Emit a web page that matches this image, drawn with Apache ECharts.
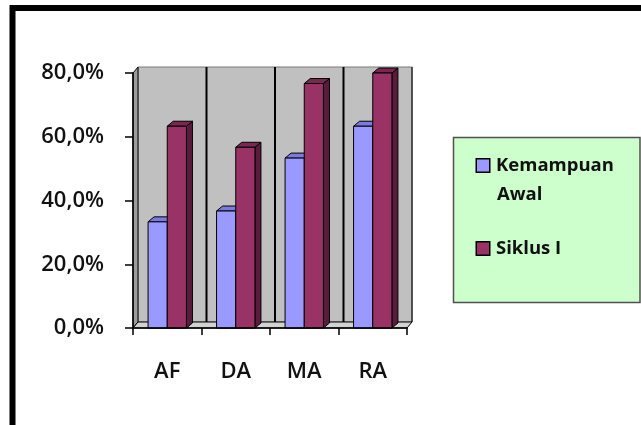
<!DOCTYPE html>
<html>
<head>
<meta charset="utf-8">
<script src="https://cdn.jsdelivr.net/npm/echarts@6/dist/echarts.min.js"></script>
<style>
  html, body { margin: 0; padding: 0; background: #fff; }
  #chart { width: 641px; height: 425px; }
</style>
</head>
<body>
<div id="chart"></div>
<script>
// Ketuntasan per aspek: kemampuan awal vs siklus I (persen)
const categories = ['AF', 'DA', 'MA', 'RA'];
const seriesNames = ['Kemampuan Awal', 'Siklus I'];
const kemampuanAwal = [33.3, 36.7, 53.3, 63.3];
const siklusI = [63.3, 56.7, 76.7, 80.0];
const yTicks = [0, 20, 40, 60, 80];

const FONT = '"Open Sans", "Liberation Sans", sans-serif';

// Face colours for the pseudo-3D columns: front, top, side
const palette = [
  { front: '#9999FF', top: '#7a7ae0', side: '#6262b0' },
  { front: '#993366', top: '#7a2852', side: '#5a1c3b' }
];

// depth offsets of the chart box and of the columns
const WALL_DX = 5, WALL_DY = -6;
const BAR_DX = 6, BAR_DY = -5;

function fmtPct(v) {
  return v.toFixed(1).replace('.', ',') + '%';
}

// back wall, side wall and floor of the 3D plot box
function renderWalls(params, api) {
  const cs = params.coordSys;
  const x = cs.x, y = cs.y, w = cs.width, h = cs.height;
  const n = categories.length;
  const children = [];
  children.push({
    type: 'rect',
    shape: { x: x + WALL_DX, y: y + WALL_DY, width: w, height: h },
    style: { fill: '#C0C0C0', stroke: '#7a7a7a', lineWidth: 1 }
  });
  for (let i = 1; i < n; i++) {
    const lx = x + WALL_DX + (w * i) / n;
    children.push({
      type: 'line',
      shape: { x1: lx, y1: y + WALL_DY, x2: lx, y2: y + h + WALL_DY },
      style: { stroke: '#000', lineWidth: 2 }
    });
  }
  const rx = x + w + WALL_DX;
  children.push({
    type: 'line',
    shape: { x1: rx, y1: y + WALL_DY, x2: rx, y2: y + h + WALL_DY },
    style: { stroke: '#333', lineWidth: 1.5 }
  });
  children.push({
    type: 'polygon',
    shape: { points: [[x, y + h], [x, y], [x + WALL_DX, y + WALL_DY], [x + WALL_DX, y + h + WALL_DY]] },
    style: { fill: '#9c9c9c', stroke: '#000', lineWidth: 1 }
  });
  children.push({
    type: 'polygon',
    shape: { points: [[x, y + h], [x + w, y + h], [x + w + WALL_DX, y + h + WALL_DY], [x + WALL_DX, y + h + WALL_DY]] },
    style: { fill: '#d2d2d2', stroke: '#000', lineWidth: 1 }
  });
  return { type: 'group', children: children };
}

function makeBarRenderer(seriesIndex) {
  const col = palette[seriesIndex];
  return function (params, api) {
    const idx = api.value(0);
    const val = api.value(1);
    const base = api.coord([idx, 0]);
    const top = api.coord([idx, val]);
    const band = api.size([1, 0])[0];
    const bw = band * 0.28;
    const x0 = seriesIndex === 0 ? base[0] - bw : base[0];
    const x1 = x0 + bw;
    const yt = top[1], yb = base[1];
    const stroke = { stroke: '#000', lineWidth: 1 };
    return {
      type: 'group',
      children: [
        {
          type: 'polygon',
          shape: { points: [[x1, yt], [x1 + BAR_DX, yt + BAR_DY], [x1 + BAR_DX, yb + BAR_DY], [x1, yb]] },
          style: Object.assign({ fill: col.side }, stroke)
        },
        {
          type: 'polygon',
          shape: { points: [[x0, yt], [x1, yt], [x1 + BAR_DX, yt + BAR_DY], [x0 + BAR_DX, yt + BAR_DY]] },
          style: Object.assign({ fill: col.top }, stroke)
        },
        {
          type: 'rect',
          shape: { x: x0, y: yt, width: bw, height: yb - yt },
          style: Object.assign({ fill: col.front }, stroke)
        }
      ]
    };
  };
}

const chart = echarts.init(document.getElementById('chart'), null, { renderer: 'canvas' });

const option = {
  animation: false,
  backgroundColor: '#fff',
  grid: { left: 133, right: 234, top: 73, bottom: 97, containLabel: false },
  xAxis: {
    type: 'category',
    data: categories,
    boundaryGap: true,
    z: 5,
    axisLine: { show: true, lineStyle: { color: '#000', width: 1.5 } },
    axisTick: { show: true, inside: false, length: 7, alignWithLabel: false, lineStyle: { color: '#000', width: 1.5 } },
    axisLabel: { margin: 33, color: '#111', fontFamily: FONT, fontSize: 22, fontWeight: 600 },
    splitLine: { show: false }
  },
  yAxis: {
    type: 'value',
    min: 0,
    max: 80,
    interval: 20,
    z: 5,
    axisLine: { show: true, lineStyle: { color: '#000', width: 1.5 } },
    axisTick: { show: true, length: 8, lineStyle: { color: '#000', width: 1.5 } },
    axisLabel: {
      margin: 29,
      color: '#111',
      fontFamily: FONT,
      fontSize: 22,
      fontWeight: 600,
      formatter: function (v) { return yTicks.indexOf(v) >= 0 ? fmtPct(v) : ''; }
    },
    splitLine: { show: false }
  },
  legend: {
    orient: 'vertical',
    left: 472,
    top: 156,
    padding: 0,
    itemGap: 35,
    itemWidth: 0,
    itemHeight: 0,
    itemStyle: { opacity: 0 },
    selectedMode: false,
    data: seriesNames,
    formatter: function (name) {
      if (name === seriesNames[0]) {
        return '{m0|}{t|Kemampuan}\n{sp|}{t|Awal}';
      }
      return '{m1|}{t|' + name + '}';
    },
    textStyle: {
      rich: {
        t: { fontFamily: FONT, fontSize: 18.5, fontWeight: 'bold', color: '#111', lineHeight: 29, padding: [0, 0, 0, 7] },
        m0: { width: 12, height: 12, backgroundColor: palette[0].front, borderColor: '#000', borderWidth: 1.5, lineHeight: 29 },
        m1: { width: 12, height: 12, backgroundColor: palette[1].front, borderColor: '#000', borderWidth: 1.5, lineHeight: 29 },
        sp: { width: 13, lineHeight: 29 }
      }
    }
  },
  graphic: [
    {
      type: 'rect',
      z: 1,
      shape: { x: 453.5, y: 137.5, width: 186.5, height: 165 },
      style: { fill: '#CCFFCC', stroke: '#505050', lineWidth: 1.5 }
    },
    {
      type: 'polyline',
      z: 10,
      shape: { points: [[12.5, 440], [12.5, 8], [660, 8]] },
      style: { stroke: '#000', lineWidth: 6, fill: null, lineJoin: 'miter' }
    }
  ],
  series: [
    {
      name: 'walls',
      type: 'custom',
      z: 1,
      silent: true,
      renderItem: renderWalls,
      data: [[0, 0]],
      encode: { x: 0, y: 1 }
    },
    {
      name: seriesNames[0],
      type: 'custom',
      z: 2,
      itemStyle: { color: palette[0].front },
      renderItem: makeBarRenderer(0),
      data: kemampuanAwal.map(function (v, i) { return [i, v]; }),
      encode: { x: 0, y: 1 }
    },
    {
      name: seriesNames[1],
      type: 'custom',
      z: 3,
      itemStyle: { color: palette[1].front },
      renderItem: makeBarRenderer(1),
      data: siklusI.map(function (v, i) { return [i, v]; }),
      encode: { x: 0, y: 1 }
    }
  ]
};

chart.setOption(option);
</script>
</body>
</html>
